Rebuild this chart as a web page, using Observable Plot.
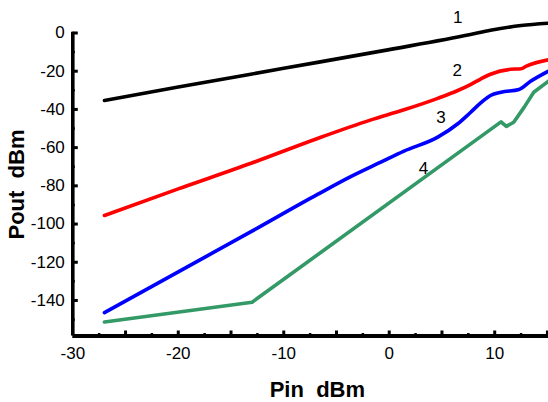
<!DOCTYPE html>
<html>
<head>
<meta charset="utf-8">
<script src="https://cdn.jsdelivr.net/npm/d3@7"></script>
<script src="https://cdn.jsdelivr.net/npm/@observablehq/plot@0.6"></script>
<style>
  html, body { margin: 0; padding: 0; background: white; }
</style>
</head>
<body>
<div id="chart"></div>
<script>
// Curve 1 (black)
const pin1 = [-27.0, -20, -10, 0, 7.7, 9.6, 12.5, 15.1];
const pout1 = [-35.3, -28.3, -18.5, -8.7, -0.8, 1.4, 3.9, 5.1];
// Curve 2 (red)
const pin2 = [-27.0, -20, -13.1, -6.8, -1.8, 1.4, 4.6, 6.5, 7.7, 8.7, 9.6, 11.5, 12.5, 13.0, 15.1];
const pout2 = [-95.5, -81.6, -68.2, -55.2, -45.6, -40.2, -34.2, -30.1, -27, -24, -21.6, -19.0, -18.7, -17.3, -14];
// Curve 3 (blue)
const pin3 = [-27.0, -20, -13.1, -6.8, -3.7, -0.8, 1.4, 4.6, 6.5, 7.7, 8.7, 9.6, 10.6, 12.3, 13.4, 15.1];
const pout3 = [-146.4, -125, -104, -84.5, -75.3, -67.6, -61.8, -54.5, -47.5, -41.6, -36.5, -32.7, -31, -29.6, -25.3, -20];
// Curve 4 (green)
const pin4 = [-27.0, -13.0, 10.6, 11.1, 11.8, 12.8, 13.7, 15.1];
const pout4 = [-151.3, -140.9, -46.5, -48.9, -46.7, -38.8, -31, -25.2];

// Curve labels
const labelText = ["1", "2", "3", "4"];
const labelX = [6.5, 6.45, 4.9, 3.25];
const labelY = [8.3, -19.7, -44.4, -71];

// Axis ticks
const xLabelTicks = [-30, -20, -10, 0, 10];
const xMajorTicks = [-25, -20, -15, -10, -5, 0, 5, 10, 15];
const xMinorTicks = [-27.5, -22.5, -17.5, -12.5, -7.5, -2.5, 2.5, 7.5, 12.5];
const yLabelTicks = [0, -20, -40, -60, -80, -100, -120, -140];
const yMinorTicks = [-10, -30, -50, -70, -90, -110, -130, -150];

const xDomain = [-30, 15.1];
const yDomain = [-158.6, 0];

const seriesNames = ["1", "2", "3", "4"];
const seriesColors = ["#000000", "#ff0000", "#0000ff", "#339966"];
const xs = [pin1, pin2, pin3, pin4];
const ys = [pout1, pout2, pout3, pout4];
const rows = [];
xs.forEach((arr, i) => arr.forEach((x, j) => rows.push({series: seriesNames[i], x, y: ys[i][j]})));
const smoothRows = rows.filter(d => d.series !== "4");
const greenRows = rows.filter(d => d.series === "4");
const labels = labelText.map((t, i) => ({t, x: labelX[i], y: labelY[i]}));

const xTickLen = (yDomain[1] - yDomain[0]) / 303 * 5;
const xMinLen = (yDomain[1] - yDomain[0]) / 303 * 2.5;
const yTickLen = (xDomain[1] - xDomain[0]) / 475.7 * 5.5;
const yMinLen = (xDomain[1] - xDomain[0]) / 475.7 * 2.5;

const chart = Plot.plot({
  width: 548,
  height: 402,
  marginLeft: 72.3,
  marginRight: 0,
  marginTop: 32.5,
  marginBottom: 66.5,
  style: {fontFamily: "'Liberation Sans', Arial, sans-serif", background: "white", overflow: "visible"},
  x: {domain: xDomain, axis: null},
  y: {domain: yDomain, axis: null},
  color: {domain: seriesNames, range: seriesColors},
  marks: [
    Plot.line(smoothRows, {x: "x", y: "y", z: "series", stroke: "series", strokeWidth: 3.6, strokeLinejoin: "round", curve: "monotone-x"}),
    Plot.line(greenRows, {x: "x", y: "y", z: "series", stroke: "series", strokeWidth: 3.6, strokeLinejoin: "round", curve: "linear"}),
    // axis lines
    Plot.ruleX([xDomain[0]], {y1: yDomain[0], y2: yDomain[1] + 0.4, strokeWidth: 3.6, stroke: "black"}),
    Plot.ruleY([yDomain[0]], {x1: xDomain[0], x2: xDomain[1], strokeWidth: 4, stroke: "black"}),
    // y ticks
    Plot.ruleY(yLabelTicks, {x1: xDomain[0], x2: xDomain[0] + yTickLen, strokeWidth: 3, stroke: "black"}),
    Plot.ruleY(yMinorTicks, {x1: xDomain[0], x2: xDomain[0] + yMinLen, strokeWidth: 2.5, stroke: "black"}),
    // x ticks
    Plot.ruleX(xMajorTicks, {y1: yDomain[0], y2: yDomain[0] + xTickLen, strokeWidth: 3, stroke: "black"}),
    Plot.ruleX(xMinorTicks, {y1: yDomain[0], y2: yDomain[0] + xMinLen, strokeWidth: 2.5, stroke: "black"}),
    // tick labels
    Plot.axisY({ticks: yLabelTicks, tickSize: 0, tickPadding: 8, fontSize: 17, tickFormat: d => String(d), label: null, anchor: "left"}),
    Plot.axisX({ticks: xLabelTicks, tickSize: 0, tickPadding: 11, fontSize: 17, tickFormat: d => String(d), label: null, anchor: "bottom"}),
    // curve labels
    Plot.text(labels, {x: "x", y: "y", text: "t", fontSize: 17, fill: "black", lineAnchor: "middle", textAnchor: "middle"}),
    // axis titles
    Plot.text(["Pout  dBm"], {frameAnchor: "left", dx: -56, rotate: -90, fontSize: 22, fontWeight: "bold", fill: "black", lineAnchor: "middle", textAnchor: "middle"}),
    Plot.text(["Pin  dBm"], {frameAnchor: "bottom", dx: 6.7, dy: 53.5, fontSize: 22, fontWeight: "bold", fill: "black", lineAnchor: "middle", textAnchor: "middle"})
  ]
});
chart.querySelectorAll("text").forEach(t => t.setAttribute("xml:space", "preserve"));
chart.querySelectorAll("text, tspan").forEach(t => t.style.whiteSpace = "pre");
document.getElementById("chart").appendChild(chart);
</script>
</body>
</html>
